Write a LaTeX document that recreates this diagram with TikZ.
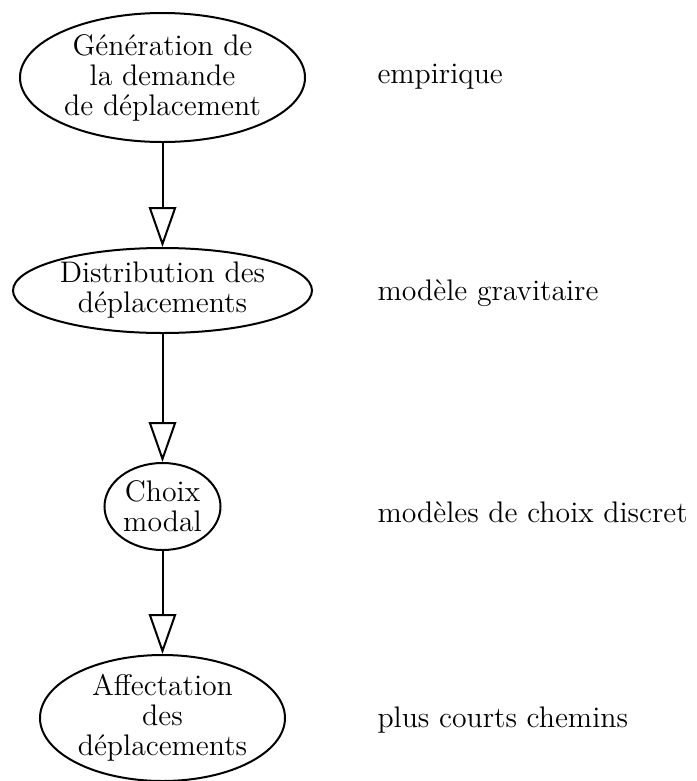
\documentclass[tikz,border=0pt]{standalone}
\usetikzlibrary{shapes.geometric,arrows.meta}
\begin{document}
\begin{tikzpicture}[x=0.4pt,y=-0.4pt,
  stage/.style={draw, ellipse, line width=0.8pt, inner sep=0pt, align=center, font=\fontsize{11.9}{12}\selectfont},
  method/.style={anchor=west, inner sep=0pt, font=\fontsize{11.9}{12}\selectfont},
  flow/.style={line width=0.8pt, -{Triangle[open, length=16pt, width=11pt, line width=0.8pt]}}]
\useasboundingbox (0,0) rectangle (697,781);
\node[stage, minimum width=285*0.4pt, minimum height=129*0.4pt] (gen) at (162.5,77.5) {Génération de\\la demande\\de déplacement};
\node[stage, minimum width=299*0.4pt, minimum height=85*0.4pt] (dist) at (162.5,290.5) {Distribution des\\déplacements};
\node[stage, minimum width=116*0.4pt, minimum height=87*0.4pt] (choix) at (162.5,506.5) {Choix\\modal};
\node[stage, minimum width=245*0.4pt, minimum height=126*0.4pt] (aff) at (162.5,718) {Affectation\\des\\déplacements};
\node[method] (m1) at (377,77) {empirique};
\node[method] (m2) at (377,293) {modèle gravitaire};
\node[method] (m3) at (377,512) {modèles de choix discret};
\node[method] (m4) at (377,720) {plus courts chemins};
\draw[flow] (gen) -- (dist);
\draw[flow] (dist) -- (choix);
\draw[flow] (choix) -- (aff);
\end{tikzpicture}
\end{document}
